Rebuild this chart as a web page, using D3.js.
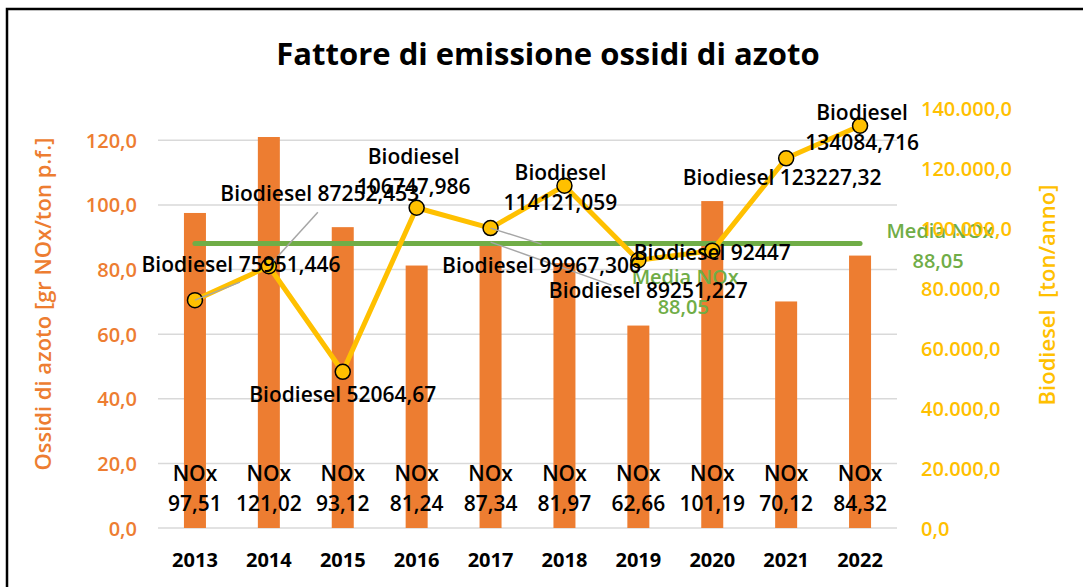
<!DOCTYPE html>
<html>
<head>
<meta charset="utf-8">
<script src="https://cdn.jsdelivr.net/npm/d3@7"></script>
<style>
  html, body { margin: 0; padding: 0; background: #fff; }
  svg { display: block; font-family: "Open Sans", sans-serif; }
</style>
</head>
<body>
<svg id="chart" width="1083" height="587"></svg>
<script>
// ── Data ──
const years = ["2013", "2014", "2015", "2016", "2017", "2018", "2019", "2020", "2021", "2022"];
const noxValues = [97.51, 121.02, 93.12, 81.24, 87.34, 81.97, 62.66, 101.19, 70.12, 84.32];
const biodieselValues = [75951.446, 87252.453, 52064.67, 106747.986, 99967.306, 114121.059, 89251.227, 92447, 123227.32, 134084.716];
const mediaNox = 88.05;
const leftTicks = [0, 20, 40, 60, 80, 100, 120];
const rightTicks = [0, 20000, 40000, 60000, 80000, 100000, 120000, 140000];

// label placement (offsets from the marker), layout only
const bioLabelOffsets = [
  { dx: 46, dy: -36, split: false },
  { dx: 51, dy: -73, split: false },
  { dx: 0, dy: 22, split: false },
  { dx: -3, dy: -37, split: true },
  { dx: 51, dy: 37, split: false },
  { dx: -4, dy: 1, split: true },
  { dx: 10, dy: 30, split: false },
  { dx: 0, dy: 1, split: false },
  { dx: -4, dy: 19, split: false },
  { dx: 2, dy: 1, split: true }
];
// leader lines: [category index, x1, y1, x2, y2] relative to marker
const leaders = [
  [0, 0, 0, 45, -18],
  [1, 0, 0, 49, -54],
  [4, 0, 0, 51, 16],
  [4, 0, 14, 121, 57]
];

const C = {
  bar: "#ED7D31", line: "#FFC000", green: "#70AD47",
  grid: "#D9D9D9", leader: "#A6A6A6", text: "#000"
};

const it = d3.formatLocale({ decimal: ",", thousands: ".", grouping: [3], currency: ["€", ""] });
const fmtAxis = it.format(",.1f");
const fmtNox = it.format(".2f");
const fmtBio = (v) => String(v).replace(".", ",");

const svg = d3.select("#chart");
const W = 1083, H = 587;
const plot = { left: 158, right: 897, top: 108, bottom: 528 };

// frame
svg.append("rect")
  .attr("x", 7).attr("y", 9).attr("width", W + 20).attr("height", H + 20)
  .attr("fill", "#fff").attr("stroke", "#000").attr("stroke-width", 2.5);

// ── Scales ──
const x = d3.scaleBand().domain(years).range([plot.left, plot.right]).padding(0);
const yL = d3.scaleLinear().domain([0, 130]).range([plot.bottom, plot.top]);
const yR = d3.scaleLinear().domain([0, 140000]).range([plot.bottom, plot.top]);
const cx = (d) => x(d) + x.bandwidth() / 2;
const barW = 22;

// title
svg.append("text")
  .attr("x", 548).attr("y", 53)
  .attr("text-anchor", "middle").attr("dominant-baseline", "central")
  .attr("font-size", 31).attr("font-weight", 700).attr("fill", C.text)
  .text("Fattore di emissione ossidi di azoto");

// gridlines
svg.append("g").selectAll("line").data(leftTicks).join("line")
  .attr("x1", plot.left).attr("x2", plot.right)
  .attr("y1", (d) => yL(d)).attr("y2", (d) => yL(d))
  .attr("stroke", C.grid).attr("stroke-width", 1.5);

// left axis labels
const leftAxis = svg.append("g")
  .attr("transform", `translate(${plot.left - 21},0)`)
  .call(d3.axisLeft(yL).tickValues(leftTicks).tickFormat(fmtAxis).tickSize(0).tickPadding(0));
leftAxis.select(".domain").remove();
leftAxis.selectAll("text")
  .attr("fill", C.bar).attr("font-size", 20).attr("font-weight", 600)
  .attr("font-family", "Open Sans").attr("dy", "0.35em");

// right axis labels
const rightAxis = svg.append("g")
  .attr("transform", `translate(${plot.right + 24},0)`)
  .call(d3.axisRight(yR).tickValues(rightTicks).tickFormat(fmtAxis).tickSize(0).tickPadding(0));
rightAxis.select(".domain").remove();
rightAxis.selectAll("text")
  .attr("fill", C.line).attr("font-size", 20).attr("font-weight", 600)
  .attr("font-family", "Open Sans").attr("dy", "0.35em");

// x axis labels
const xAxis = svg.append("g")
  .attr("transform", `translate(0,${plot.bottom + 32})`)
  .call(d3.axisBottom(x).tickSize(0).tickPadding(0));
xAxis.select(".domain").remove();
xAxis.selectAll("text")
  .attr("fill", C.text).attr("font-size", 20).attr("font-weight", 700)
  .attr("font-family", "Open Sans").attr("dy", "0.35em");

// axis titles
svg.append("text")
  .attr("transform", `translate(42,304) rotate(-90)`)
  .attr("text-anchor", "middle").attr("dominant-baseline", "central")
  .attr("font-size", 22).attr("font-weight", 600).attr("fill", C.bar)
  .text("Ossidi di azoto [gr NOx/ton p.f.]");
svg.append("text")
  .attr("transform", `translate(1046,295) rotate(-90)`)
  .attr("text-anchor", "middle").attr("dominant-baseline", "central")
  .attr("font-size", 22).attr("font-weight", 600).attr("fill", C.line)
  .attr("xml:space", "preserve")
  .text("Biodiesel  [ton/anno]");

// bars
svg.append("g").selectAll("rect").data(years).join("rect")
  .attr("x", (d) => cx(d) - barW / 2)
  .attr("width", barW)
  .attr("y", (d, i) => yL(noxValues[i]))
  .attr("height", (d, i) => yL(0) - yL(noxValues[i]))
  .attr("fill", C.bar);

// media NOx line
svg.append("line")
  .attr("x1", cx(years[0])).attr("x2", cx(years[years.length - 1]))
  .attr("y1", yL(mediaNox)).attr("y2", yL(mediaNox))
  .attr("stroke", C.green).attr("stroke-width", 5).attr("stroke-linecap", "round");

// biodiesel line
const pts = years.map((d, i) => [cx(d), yR(biodieselValues[i])]);
svg.append("path")
  .attr("d", d3.line()(pts))
  .attr("fill", "none").attr("stroke", C.line).attr("stroke-width", 5)
  .attr("stroke-linejoin", "round");

svg.append("g").selectAll("circle").data(pts).join("circle")
  .attr("cx", (d) => d[0]).attr("cy", (d) => d[1]).attr("r", 7.5)
  .attr("fill", C.line).attr("stroke", "#000").attr("stroke-width", 1.5);

// leader lines
svg.append("g").selectAll("line").data(leaders).join("line")
  .attr("x1", (d) => pts[d[0]][0] + d[1]).attr("y1", (d) => pts[d[0]][1] + d[2])
  .attr("x2", (d) => pts[d[0]][0] + d[3]).attr("y2", (d) => pts[d[0]][1] + d[4])
  .attr("stroke", C.leader).attr("stroke-width", 1.5);

// NOx labels
const noxG = svg.append("g")
  .attr("font-size", 21).attr("font-weight", 600).attr("fill", C.text)
  .attr("text-anchor", "middle");
years.forEach((d, i) => {
  noxG.append("text").attr("x", cx(d)).attr("y", 473)
    .attr("dominant-baseline", "central").text("NOx");
  noxG.append("text").attr("x", cx(d)).attr("y", 503)
    .attr("dominant-baseline", "central").text(fmtNox(noxValues[i]));
});

// media labels
const mediaG = svg.append("g")
  .attr("font-size", 20).attr("font-weight", 600).attr("fill", C.green)
  .attr("text-anchor", "middle");
const mediaPlaces = [
  { x: cx(years[9]) + 80, y: yL(mediaNox) + 2 },
  { x: cx(years[7]) - 27, y: yL(mediaNox) + 48 }
];
mediaPlaces.forEach((p) => {
  mediaG.append("text").attr("x", p.x).attr("y", p.y - 15)
    .attr("dominant-baseline", "central").text("Media NOx");
  mediaG.append("text").attr("x", p.x - 2).attr("y", p.y + 15)
    .attr("dominant-baseline", "central").text(fmtNox(mediaNox));
});

// right tick labels drawn above media label
rightAxis.raise();

// biodiesel labels
const bioG = svg.append("g")
  .attr("font-size", 21).attr("font-weight", 600).attr("fill", C.text)
  .attr("text-anchor", "middle");
years.forEach((d, i) => {
  const o = bioLabelOffsets[i];
  const px = pts[i][0] + o.dx, py = pts[i][1] + o.dy;
  if (o.split) {
    bioG.append("text").attr("x", px).attr("y", py - 15)
      .attr("dominant-baseline", "central").text("Biodiesel");
    bioG.append("text").attr("x", px).attr("y", py + 15)
      .attr("dominant-baseline", "central").text(fmtBio(biodieselValues[i]));
  } else {
    bioG.append("text").attr("x", px).attr("y", py)
      .attr("dominant-baseline", "central").text("Biodiesel " + fmtBio(biodieselValues[i]));
  }
});
</script>
</body>
</html>
